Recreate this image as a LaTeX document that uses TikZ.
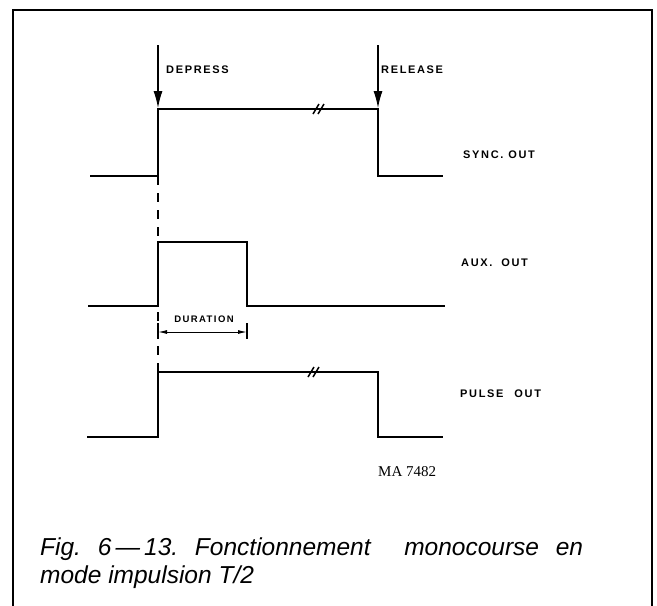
\documentclass[tikz,border=0pt]{standalone}
\usepackage{fontspec}
\setmainfont{Liberation Sans}
\newfontfamily\lblfont[LetterSpace=15]{Liberation Sans Bold}
\newfontfamily\serfont{Liberation Serif}
\newfontfamily\capfont{Liberation Sans}
\usetikzlibrary{arrows.meta}
\begin{document}
\begin{tikzpicture}[x=1pt,y=-1pt,
  sig/.style={line width=1.8pt, line join=miter},
  framestyle/.style={line width=1.8pt},
  lbl/.style={font=\lblfont\fontsize{11}{13}\selectfont, inner sep=0pt, anchor=west},
  smalllbl/.style={font=\lblfont\fontsize{9.5}{11}\selectfont, inner sep=0pt},
  marker/.style={line width=1.2pt, -{Latex[length=17pt,width=9pt]}},
  brk/.style={line width=1.5pt},
  dim/.style={line width=1pt, {Latex[length=9pt,width=4pt]}-{Latex[length=9pt,width=4pt]}},
  capt/.style={font=\capfont\itshape\fontsize{24.5}{28}\selectfont, inner sep=0pt, anchor=base west}]
\useasboundingbox (0,0) rectangle (657,606);
\draw[framestyle] (13,608) |- (652,10) -- (652,608);

% dashed reference line
\draw[line width=1.5pt, dash pattern=on 9pt off 8pt] (158,176) -- (158,372);

% SYNC OUT
\draw[sig] (90,176) -- (158,176) -- (158,109) -- (378,109) -- (378,176) -- (443,176);
\draw[brk] (313,114) -- (319,104) (318,114) -- (324,104);

% markers
\coordinate (dtop) at (158,45);
\coordinate (dbot) at (158,108);
\coordinate (rtop) at (378,45);
\coordinate (rbot) at (378,108);
\draw[marker] (dtop) -- (dbot);
\draw[marker] (rtop) -- (rbot);
\node[lbl] (depress) at (166,70) {DEPRESS};
\node[lbl] (release) at (381,70) {RELEASE};

% AUX OUT
\draw[sig] (88,306) -- (158,306) -- (158,242) -- (247,242) -- (247,306) -- (445,306);
\coordinate (dl) at (158,332);
\coordinate (dr) at (247,332);
\draw[line width=1.2pt] (247,323) -- (247,339);
\draw[line width=1.2pt] (158,323) -- (158,339);
\draw[dim] (dl) -- (dr);
\node[smalllbl] (duration) at (204,319) {DURATION};

% PULSE OUT
\draw[sig] (87,437) -- (158,437) -- (158,372) -- (378,372) -- (378,437) -- (443,437);
\draw[brk] (308,377) -- (314,367) (313,377) -- (319,367);

% labels
\node[lbl] (sync) at (463,155) {SYNC.\hspace{5pt}OUT};
\node[lbl] (aux) at (461,263) {AUX.\hspace{9pt}OUT};
\node[lbl] (pulse) at (460,394) {PULSE\hspace{11pt}OUT};
\node[font=\serfont\fontsize{15}{17}\selectfont, inner sep=0pt, anchor=west] (ma) at (378,472) {MA 7482};

% caption
\node[capt] (cap1) at (40,555) {\makebox[543pt][s]{Fig.\ 6\,—\,13.\ Fonctionnement\ \ monocourse en}};
\node[capt] (cap2) at (40,583) {mode\ impulsion\ T/2};
\end{tikzpicture}
\end{document}
